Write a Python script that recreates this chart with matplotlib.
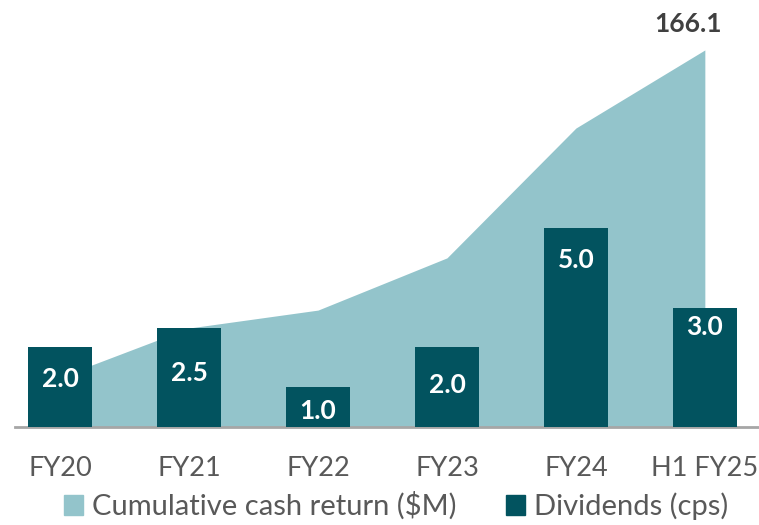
import numpy as np
import matplotlib
matplotlib.use("Agg")
import matplotlib.pyplot as plt
from matplotlib.patches import Patch

# data
periods = ["FY20", "FY21", "FY22", "FY23", "FY24", "H1 FY25"]
cum_return = [22.0, 43.6, 51.5, 74.5, 131.7, 166.1]   # $M, area
dividends = [2.0, 2.5, 1.0, 2.0, 5.0, 3.0]             # cps, bars
div_labels = ["2.0", "2.5", "1.0", "2.0", "5.0", "3.0"]

area_col = "#93C4CB"
bar_col = "#02535F"
txt_col = "#595959"

plt.rcParams['font.family'] = ['Lato', 'DejaVu Sans']

fig = plt.figure(figsize=(7.59, 5.25), dpi=100)
ax1 = fig.add_axes([15 / 759, 98 / 525, 744 / 759, 427 / 525])
ax2 = ax1.twinx()

x = np.arange(len(periods))

# cumulative cash return as area
ax1.fill_between(x, 0, cum_return, color=area_col, lw=0, zorder=1)
ax1.set_ylim(0, 188.1)
ax1.set_xlim(-0.35, 5.42)

# last value label
ax1.annotate("166.1", (x[-1], cum_return[-1]), xytext=(-12, 10),
             textcoords="offset points", ha="center", va="bottom",
             fontsize=19, fontweight="bold", color="#404040")

# dividends bars
bars = ax2.bar(x, dividends, width=0.5, color=bar_col, zorder=2)
ax2.set_ylim(0, 10.73)
lbl_off = [-23, -33, -17, -27, -23, -14]   # points below bar top
for b, lab, off in zip(bars, div_labels, lbl_off):
    ax2.annotate(lab, (b.get_x() + b.get_width() / 2, b.get_height()),
                 xytext=(0, off), textcoords="offset points",
                 ha="center", va="center", fontsize=19,
                 fontweight="bold", color="white")

for ax in (ax1, ax2):
    ax.set_yticks([])
    for s in ["top", "right", "left", "bottom"]:
        ax.spines[s].set_visible(False)
ax1.spines["bottom"].set_visible(True)
ax1.spines["bottom"].set_color("#A6A6A6")
ax1.spines["bottom"].set_linewidth(2)
ax1.spines["bottom"].set_zorder(5)

ax1.set_xticks(x)
ax1.set_xticklabels(periods, fontsize=19.5, color=txt_col)
ax1.tick_params(axis="x", length=0, pad=21)

handles = [Patch(color=area_col, label="Cumulative cash return ($M)"),
           Patch(color=bar_col, label="Dividends (cps)")]
fig.legend(handles=handles, loc="center", bbox_to_anchor=(0.522, 0.036),
           ncol=2, frameon=False, fontsize=21, labelcolor=txt_col,
           handlelength=0.65, handleheight=0.65, handletextpad=0.3,
           columnspacing=1.7, borderpad=0)

fig.savefig("out.png", dpi=100)
plt.close(fig)
